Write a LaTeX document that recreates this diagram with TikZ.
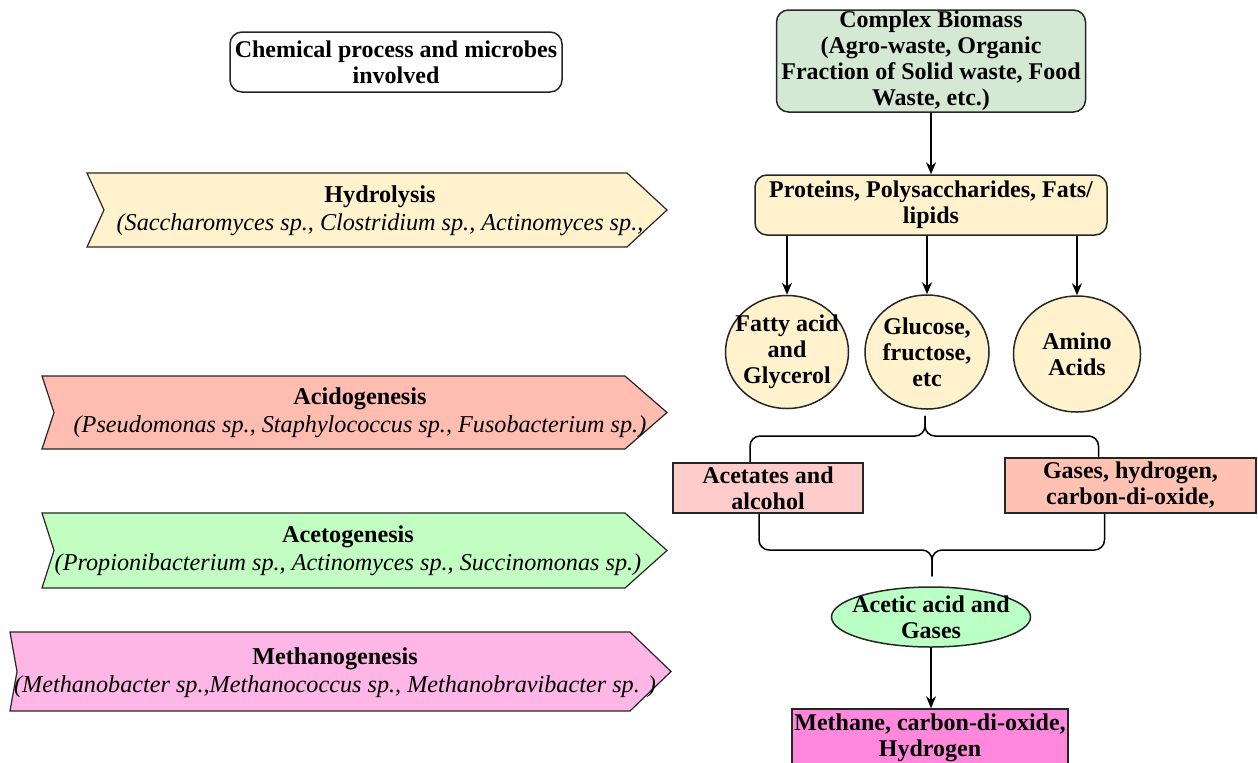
\documentclass[tikz,border=0pt]{standalone}
\usepackage{fontspec}
\setmainfont{Liberation Serif}
\usetikzlibrary{arrows.meta,shapes.geometric}
\definecolor{Biomass}{HTML}{D5E8D4}
\definecolor{Cream}{HTML}{FFF2CC}
\definecolor{Rose}{HTML}{FFCCCC}
\definecolor{Salmon}{HTML}{FFC1B1}
\definecolor{Mint}{HTML}{BAFFC4}
\definecolor{Magenta}{HTML}{FF88DD}
\definecolor{Leaf}{HTML}{C2FDC2}
\definecolor{Orchid}{HTML}{FDB6E5}
\definecolor{Peach}{HTML}{FFBCB1}

\tikzset{
  txt/.style={align=center, inner sep=0pt, font=\bfseries\fontsize{12}{13}\selectfont},
  box/.style={txt, draw=black!85, line width=0.75pt},
  roundbox/.style={box, rounded corners=6pt},
  blob/.style={draw=black!85, line width=0.75pt, ellipse, inner sep=0pt},
  stage/.style={draw=black!85, line width=0.6pt},
  stagetext/.style={align=center, inner sep=0pt, font=\fontsize{12.1}{14}\selectfont},
  arr/.style={line width=0.75pt, -{Stealth[length=6pt,width=5pt]}},
  link/.style={line width=0.75pt, rounded corners=5pt},
}

\begin{document}
\begin{tikzpicture}[x=0.5pt, y=-0.5pt]
    %% Background
    \path[use as bounding box] (0,0) rectangle (1258,762);
    \clip (0,0) rectangle (1258,762);

    %% Stages
    \draw[stage, fill=Cream] (87,173) -- (627,173) -- (667,210) -- (627,247) -- (87,247) -- (104,210) -- cycle;
    \node[stagetext] (hyd) at (380,211) {\textbf{Hydrolysis}\\\textit{(Saccharomyces sp., Clostridium sp., Actinomyces sp.,}};

    \draw[stage, fill=Peach] (42,376) -- (625,376) -- (667,412.5) -- (625,449) -- (42,449) -- (54,412.5) -- cycle;
    \node[stagetext] (acido) at (360,413) {\textbf{Acidogenesis}\\\textit{(Pseudomonas sp., Staphylococcus sp., Fusobacterium sp.)}};

    \draw[stage, fill=Leaf] (42,513) -- (625,513) -- (667,550.5) -- (625,588) -- (42,588) -- (54,550.5) -- cycle;
    \node[stagetext] (aceto) at (348,551) {\textbf{Acetogenesis}\\\textit{(Propionibacterium sp., Actinomyces sp., Succinomonas sp.)}};

    \draw[stage, fill=Orchid] (10,632) -- (630,632) -- (671,671.5) -- (630,711) -- (10,711) -- (17,671.5) -- cycle;
    \node[stagetext] (metha) at (335,673) {\textbf{Methanogenesis}\\\textit{(Methanobacter sp.,Methanococcus sp., Methanobravibacter sp. )}};

    %% Header
    \node[roundbox, fill=white, minimum width=166pt, minimum height=30pt] (chem) at (396,62) {Chemical process and microbes\\involved};

    %% Flow
    \node[roundbox, fill=Biomass, minimum width=154.5pt, minimum height=51pt] (bio) at (931,61) {Complex Biomass\\(Agro-waste, Organic\\Fraction of Solid waste, Food\\Waste, etc.)};
    \node[roundbox, fill=Cream, minimum width=176pt, minimum height=30pt] (prot) at (931,205) {Proteins, Polysaccharides, Fats/\\lipids};

    \node[blob, fill=Cream, minimum width=61.5pt, minimum height=56.5pt] (fat) at (787,352) {};
    \node[txt] (fattxt) at (fat) {Fatty acid\\and\\Glycerol};
    \node[blob, fill=Cream, minimum width=62pt, minimum height=57pt] (glu) at (927,352) {};
    \node[txt] (glutxt) at (glu) {Glucose,\\fructose,\\etc};
    \node[blob, fill=Cream, minimum width=63.5pt, minimum height=58pt] (amino) at (1077,354) {};
    \node[txt] (aminotxt) at (amino) {Amino\\Acids};

    \node[box, fill=Rose, minimum width=95pt, minimum height=25pt] (acet) at (768,488) {Acetates and\\alcohol};
    \node[box, fill=Salmon, minimum width=125.5pt, minimum height=27.5pt] (gas) at (1130.5,485.5) {Gases, hydrogen,\\carbon-di-oxide,};

    \node[blob, fill=Mint, minimum width=99.5pt, minimum height=30pt] (acetic) at (931,617) {};
    \node[txt] (acetictxt) at (acetic) {Acetic acid and\\Gases};

    \node[box, fill=Magenta, minimum width=138pt, minimum height=28.5pt] (meth) at (930,737.5) {Methane, carbon-di-oxide,\\Hydrogen};

    %% Connectors
    \draw[arr] (bio) -- (prot);
    \draw[arr] (prot.south -| fat.north) -- (fat.north);
    \draw[arr] (prot.south -| glu.north) -- (glu.north);
    \draw[arr] (prot.south -| amino.north) -- (amino.north);

    \coordinate (fork1) at (925,436);
    \draw[link] ([xshift=-9pt]acet.north) |- (fork1) -- ([yshift=-3pt]glu.south -| fork1);
    \draw[link] ([xshift=-16pt]gas.north) |- (fork1) -- ([yshift=-3pt]glu.south -| fork1);

    \coordinate (fork2) at (932,550);
    \draw[link] ([xshift=-4.5pt]acet.south) |- (fork2) -- ([yshift=5pt]acetic.north -| fork2);
    \draw[link] ([xshift=-13pt]gas.south) |- (fork2) -- ([yshift=5pt]acetic.north -| fork2);

    \draw[arr] (acetic.south) -- (acetic.south |- meth.north);
\end{tikzpicture}
\end{document}
